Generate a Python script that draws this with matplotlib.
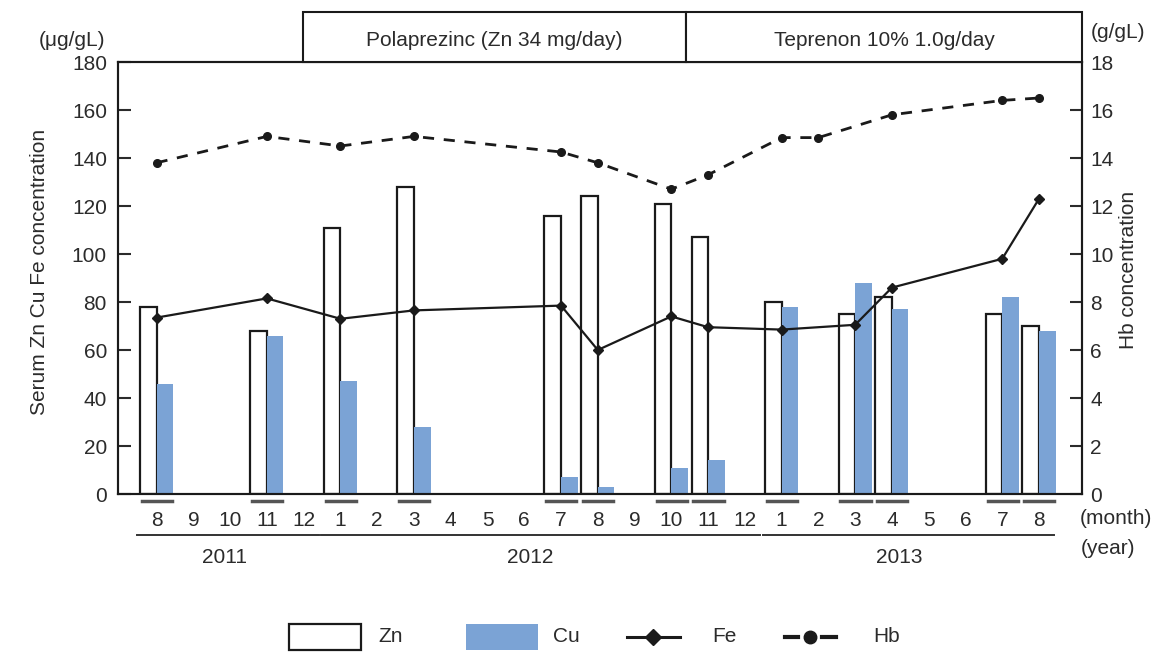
import matplotlib
matplotlib.use("Agg")
import matplotlib.pyplot as plt
from matplotlib.patches import Rectangle
from matplotlib.lines import Line2D
import matplotlib.transforms as mtransforms

plt.rcParams['font.family'] = ['Liberation Sans', 'DejaVu Sans']

# ---------------- data ----------------
month_labels = ['8', '9', '10', '11', '12',
                '1', '2', '3', '4', '5', '6', '7', '8', '9', '10', '11', '12',
                '1', '2', '3', '4', '5', '6', '7', '8']
years = ['2011', '2012', '2013']
year_start = [0, 5, 17]
year_end = [4, 16, 24]

bar_idx = [0, 3, 5, 7, 11, 12, 14, 15, 17, 19, 20, 23, 24]
zn = [78, 68, 111, 128, 116, 124, 121, 107, 80, 75, 82, 75, 70]
cu = [46, 66, 47, 28, 7, 3, 11, 14, 78, 88, 77, 82, 68]

fe_idx = [0, 3, 5, 7, 11, 12, 14, 15, 17, 19, 20, 23, 24]
fe = [73.5, 81.5, 73, 76.5, 78.5, 60, 74, 69.5, 68.5, 70.5, 86, 98, 123]

hb_idx = [0, 3, 5, 7, 11, 12, 14, 15, 17, 18, 20, 23, 24]
hb = [13.8, 14.9, 14.5, 14.9, 14.25, 13.8, 12.7, 13.3, 14.85, 14.85, 15.8, 16.4, 16.5]

left_ticks = [0, 20, 40, 60, 80, 100, 120, 140, 160, 180]
right_ticks = [0, 2, 4, 6, 8, 10, 12, 14, 16, 18]

treatments = ['Polaprezinc (Zn 34 mg/day)', 'Teprenon 10% 1.0g/day']

# ---------------- style ----------------
TXT = '#2b2b2b'
CU_COLOR = '#7ba3d5'
FS = 15

W, H = 1153, 655
fig = plt.figure(figsize=(W / 100, H / 100), dpi=100)
ax = fig.add_axes([118 / W, 1 - 494 / H, (1082 - 118) / W, (494 - 62) / H])
ax2 = ax.twinx()

bw = 0.45
ax.bar(bar_idx, zn, width=-bw, align='edge', facecolor='white',
       edgecolor='#1a1a1a', linewidth=1.6, zorder=2)
ax.bar(bar_idx, cu, width=bw, align='edge', facecolor=CU_COLOR,
       edgecolor='none', zorder=2)
ax.plot(fe_idx, fe, color='#1a1a1a', linewidth=1.6, marker='D',
        markersize=5.5, zorder=4)
ax2.plot(hb_idx, hb, color='#1a1a1a', linewidth=2.0, linestyle=(0, (4, 3.5)),
         marker='o', markersize=5.5, zorder=4)

ax.set_xlim(-1.05, 25.17)
ax.set_ylim(0, 180)
ax2.set_ylim(0, 18)
ax.set_yticks(left_ticks)
ax2.set_yticks(right_ticks)
ax.set_xticks([])
for a in (ax, ax2):
    a.tick_params(axis='y', direction='in', length=9, width=1.5,
                  labelsize=FS, colors=TXT, labelcolor=TXT)
    for s in a.spines.values():
        s.set_linewidth(1.5)
        s.set_color('#1a1a1a')
ax.tick_params(axis='y', pad=8)
ax2.tick_params(axis='y', pad=6)

trans = mtransforms.blended_transform_factory(ax.transData, ax.transAxes)

# underline marks under measured months
for i in bar_idx:
    ax.add_line(Line2D([i - 0.4, i + 0.42], [-0.016, -0.016], transform=trans,
                       color='#555555', linewidth=2.5, clip_on=False))

# month labels
for i, m in enumerate(month_labels):
    ax.text(i, -0.061, m, transform=trans, ha='center', va='center',
            fontsize=FS, color=TXT, clip_on=False)

# year lines & labels
for y, s, e in zip(years, year_start, year_end):
    ax.add_line(Line2D([s - 0.52, e + 0.42], [-0.095, -0.095], transform=trans,
                       color='#333333', linewidth=1.4, clip_on=False))
ax.text(1.85, -0.146, years[0], transform=trans, ha='center', va='center',
        fontsize=FS, color=TXT)
ax.text(10.15, -0.146, years[1], transform=trans, ha='center', va='center',
        fontsize=FS, color=TXT)
ax.text(20.2, -0.146, years[2], transform=trans, ha='center', va='center',
        fontsize=FS, color=TXT)

fig.text(1080 / W, 1 - 519 / H, '(month)', ha='left', va='center',
         fontsize=FS, color=TXT)
fig.text(1081 / W, 1 - 549 / H, '(year)', ha='left', va='center',
         fontsize=FS, color=TXT)

# treatment boxes above the plot
bx = [(303, 686), (686, 1082)]
for (x0, x1), t in zip(bx, treatments):
    fig.add_artist(Rectangle((x0 / W, 1 - 62 / H), (x1 - x0) / W, 50 / H,
                             transform=fig.transFigure, facecolor='white',
                             edgecolor='#1a1a1a', linewidth=1.5))
    fig.text((x0 + x1) / 2 / W, 1 - 40 / H, t, ha='center', va='center',
             fontsize=FS, color=TXT)

# units and axis titles
fig.text(72 / W, 1 - 40 / H, '(μg/gL)', ha='center', va='center',
         fontsize=FS, color=TXT)
fig.text(1118 / W, 1 - 33 / H, '(g/gL)', ha='center', va='center',
         fontsize=FS, color=TXT)
fig.text(40 / W, 1 - 272 / H, 'Serum Zn Cu Fe concentration', rotation=90,
         ha='center', va='center', fontsize=FS, color=TXT)
fig.text(1128 / W, 1 - 270 / H, 'Hb concentration', rotation=90,
         ha='center', va='center', fontsize=FS, color=TXT)

# legend (drawn manually at bottom)
ly = 1 - 637 / H
fig.add_artist(Rectangle((289 / W, 1 - 650 / H), 72 / W, 26 / H,
                         transform=fig.transFigure, facecolor='white',
                         edgecolor='#1a1a1a', linewidth=1.6))
fig.text(378 / W, ly, 'Zn', ha='left', va='center', fontsize=FS, color=TXT)
fig.add_artist(Rectangle((466 / W, 1 - 650 / H), 72 / W, 26 / H,
                         transform=fig.transFigure, facecolor=CU_COLOR,
                         edgecolor='none'))
fig.text(553 / W, ly, 'Cu', ha='left', va='center', fontsize=FS, color=TXT)
fig.add_artist(Line2D([627 / W, 680 / W], [ly, ly], transform=fig.transFigure,
                      color='#1a1a1a', linewidth=2.2))
fig.add_artist(Line2D([653 / W], [ly], transform=fig.transFigure,
                      color='#1a1a1a', marker='D', markersize=8))
fig.text(712 / W, ly, 'Fe', ha='left', va='center', fontsize=FS, color=TXT)
fig.add_artist(Line2D([785 / W, 798 / W], [ly, ly], transform=fig.transFigure,
                      color='#1a1a1a', linewidth=3))
fig.add_artist(Line2D([822 / W, 836 / W], [ly, ly], transform=fig.transFigure,
                      color='#1a1a1a', linewidth=3))
fig.add_artist(Line2D([810 / W], [ly], transform=fig.transFigure,
                      color='#1a1a1a', marker='o', markersize=9))
fig.text(873 / W, ly, 'Hb', ha='left', va='center', fontsize=FS, color=TXT)

fig.savefig('out.png', dpi=100, facecolor='white')
